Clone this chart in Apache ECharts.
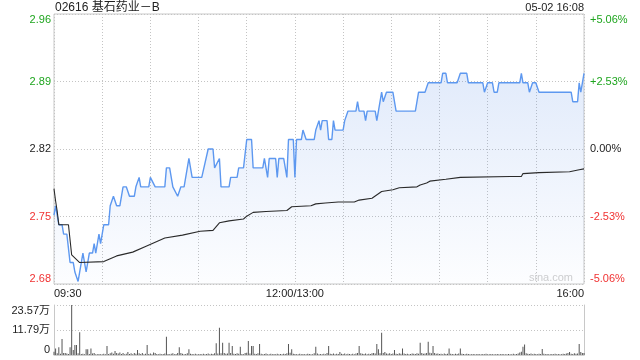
<!DOCTYPE html>
<html><head><meta charset="utf-8">
<script src="https://cdn.jsdelivr.net/npm/echarts@6/dist/echarts.min.js"></script>
<style>html,body{margin:0;padding:0;background:#fff}#c{width:640px;height:360px}</style>
</head><body><div id="c"></div>
<script>
const stockTitle = '02616 基石药业－B';
const stampText = '05-02 16:08';
const watermark = 'sina.com';
const prevClose = 2.82;
const timeTickLabels = {0: '09:30', 150: '12:00/13:00', 330: '16:00'};
const priceTickLabels = ['2.68', '2.75', '2.82', '2.89', '2.96'];
const pctTickLabels = ['-5.06%', '-2.53%', '0.00%', '+2.53%', '+5.06%'];
const volTickLabels = ['0', '11.79万', '23.57万'];

// [minute from 09:30 (lunch removed), price]
const priceTrack = [
  [0,2.75],[1,2.76],[3,2.74],[5,2.74],[6,2.73],[8,2.73],[10,2.70],[12,2.70],[13,2.69],[14,2.69],
  [15,2.68],[16,2.68],[18,2.71],[20,2.69],[22,2.71],[24,2.71],[25,2.72],[26,2.71],[28,2.73],[29,2.72],
  [30,2.73],[31,2.74],[34,2.74],[35,2.76],[37,2.77],[39,2.76],[41,2.76],[43,2.78],[45,2.78],[47,2.77],
  [50,2.77],[51,2.78],[52,2.78],[53,2.79],[54,2.78],[59,2.78],[60,2.79],[61,2.79],[63,2.78],[69,2.78],
  [70,2.80],[72,2.80],[74,2.78],[77,2.77],[79,2.78],[81,2.78],[84,2.81],[86,2.79],[92,2.79],[96,2.82],
  [99,2.82],[100,2.80],[101,2.80],[103,2.81],[104,2.78],[109,2.78],[110,2.79],[114,2.79],[115,2.80],[118,2.80],
  [120,2.83],[123,2.83],[124,2.80],[130,2.80],[131,2.81],[133,2.79],[134,2.81],[138,2.81],[139,2.79],[140,2.81],
  [143,2.81],[145,2.79],[146,2.83],[149,2.83],[150,2.79],[151,2.83],[154,2.83],[155,2.84],[157,2.83],[162,2.83],
  [163,2.84],[165,2.85],[166,2.84],[167,2.85],[170,2.85],[171,2.83],[173,2.83],[174,2.85],[175,2.84],[180,2.84],
  [181,2.85],[183,2.86],[188,2.86],[189,2.87],[190,2.86],[193,2.86],[194,2.85],[195,2.86],[200,2.86],[201,2.85],
  [202,2.86],[203,2.86],[204,2.88],[205,2.87],[206,2.87],[207,2.88],[211,2.88],[213,2.86],[225,2.86],[226,2.87],
  [227,2.88],[231,2.88],[233,2.89],[241,2.89],[242,2.90],[244,2.90],[245,2.89],[251,2.89],[253,2.90],[257,2.90],
  [258,2.89],[267,2.89],[268,2.88],[270,2.89],[273,2.89],[274,2.88],[276,2.88],[277,2.89],[290,2.89],[291,2.90],
  [292,2.89],[295,2.89],[296,2.88],[298,2.89],[300,2.89],[302,2.88],[322,2.88],[323,2.87],[326,2.87],[327,2.89],
  [328,2.88],[329,2.89],[330,2.90]
];

// [minute, average price]
const avgTrack = [
  [0,2.778],[1,2.765],[2,2.754],[3,2.740],[9,2.740],[11,2.708],[16,2.700],[31,2.701],[39,2.707],[49,2.711],
  [57,2.717],[69,2.726],[80,2.729],[91,2.733],[99,2.734],[103,2.742],[109,2.744],[118,2.746],[120,2.749],[124,2.753],
  [132,2.754],[145,2.755],[148,2.759],[160,2.760],[163,2.762],[169,2.763],[177,2.764],[187,2.764],[190,2.766],[198,2.768],
  [204,2.775],[211,2.777],[215,2.779],[226,2.780],[228,2.782],[232,2.784],[234,2.786],[244,2.788],[253,2.790],[284,2.791],
  [291,2.791],[292,2.794],[302,2.795],[321,2.796],[327,2.798],[330,2.799]
];

// volume per minute, in 万 shares (index = minute)
const volumes = [
  1.5,3.1,0.8,3.6,0.6,7.5,0.9,1.0,0.7,0.5,3.6,23.57,2.4,4.7,4.7,0.8,10.7,0.5,0.6,0.4,2.7,2.7,0.5,3.1,0.7,0.9,0.4,0.3,0.5,0.3,
  0.4,0.6,0.3,4.2,0.5,0.8,1.2,0.6,1.9,1.0,0.7,1.2,0.5,0.9,0.4,0.6,1.4,0.5,0.8,0.4,1.0,0.6,2.4,0.8,0.5,0.9,0.4,0.6,4.7,0.5,
  0.7,0.4,1.2,0.9,0.5,0.3,0.6,0.4,0.5,0.7,8.6,0.5,0.4,0.6,0.8,0.4,0.5,0.9,3.6,1.0,0.6,0.4,0.5,0.8,2.7,0.6,0.5,0.4,0.6,0.3,
  0.4,0.5,0.3,0.6,0.4,0.5,0.7,0.4,0.6,0.5,0.8,5.5,0.7,12.9,0.8,5.8,0.9,0.6,0.7,5.8,0.9,4.2,0.6,0.5,0.8,0.6,3.9,0.5,0.4,0.9,
  1.1,6.6,0.7,4.2,4.2,0.6,0.5,0.8,5.2,0.6,0.4,0.5,0.7,0.3,0.4,0.6,0.3,0.5,0.4,0.6,0.3,0.5,0.4,0.6,0.5,0.8,5.2,1.1,2.7,0.6,
  0.5,0.4,0.3,0.6,0.4,0.5,0.3,0.4,0.6,0.5,0.3,0.4,0.8,3.9,0.7,0.4,0.5,0.3,0.6,0.4,0.9,4.2,0.6,0.5,0.7,0.4,0.6,0.5,1.4,0.6,
  0.5,0.7,0.4,0.6,0.5,0.3,0.6,0.4,0.7,0.9,4.2,0.8,0.6,0.5,0.7,0.4,0.6,0.5,0.8,1.0,0.7,5.2,2.7,0.8,10.5,0.9,1.4,0.7,0.6,0.8,
  0.5,0.7,2.4,0.6,0.5,0.8,0.6,3.1,0.7,0.5,0.6,0.4,0.5,0.7,0.6,0.5,0.8,0.6,5.8,0.9,0.6,0.7,0.9,6.3,1.1,0.8,4.2,1.0,0.6,0.7,
  0.5,0.6,0.4,0.7,0.5,0.6,3.1,0.6,0.5,0.4,0.6,0.5,0.7,3.1,0.6,0.5,0.4,0.6,0.5,0.4,0.3,0.5,0.4,0.3,0.5,0.4,0.3,0.5,0.4,0.6,
  0.3,0.4,0.5,0.3,0.4,0.3,0.5,0.4,0.3,0.5,0.4,0.3,0.4,0.5,0.3,0.4,0.6,0.4,0.5,0.7,1.2,1.5,3.9,5.0,0.8,0.6,0.5,0.7,0.4,0.6,
  0.5,0.4,0.6,0.5,2.8,0.6,0.4,0.5,0.3,0.4,0.5,0.3,0.6,0.4,0.5,0.3,0.4,0.6,0.5,0.7,0.9,1.4,0.6,0.5,0.8,0.6,0.7,5.2,1.4,0.9,
  1.0
];

const FONT = "'Liberation Sans', 'Noto Sans CJK SC', sans-serif";
const GREEN = '#1ea51e', RED = '#f03232', TXT = '#222';
const toPct = p => (p / prevClose - 1) * 100;
const pctIdx = v => Math.round(v / 2.53) + 2;

const chart = echarts.init(document.getElementById('c'), null, {renderer: 'canvas'});
const dotted = {type: [1, 2], color: '#c4c4c4', width: 1};
chart.setOption({
  animation: false,
  backgroundColor: '#fff',
  textStyle: {fontFamily: FONT},
  grid: [
    {left: 54, right: 56, top: 14, height: 270, show: true, borderColor: '#c8c8c8', borderWidth: 1, backgroundColor: 'transparent'},
    {left: 54, right: 56, top: 305, height: 50}
  ],
  xAxis: [
    {type: 'value', gridIndex: 0, min: 0, max: 330, interval: 30,
     axisLine: {show: false}, axisTick: {show: false},
     splitLine: {show: true, lineStyle: dotted},
     axisLabel: {show: true, interval: 0, hideOverlap: false, margin: 4, fontSize: 11, color: TXT, fontFamily: FONT,
       alignMinLabel: 'left', alignMaxLabel: 'right',
       formatter: v => timeTickLabels[Math.round(v)] || ''}},
    {type: 'value', gridIndex: 1, min: 0, max: 330, interval: 30,
     axisLine: {show: true, lineStyle: {color: '#d0d0d0'}}, axisTick: {show: false},
     splitLine: {show: false}, axisLabel: {show: false}}
  ],
  yAxis: [
    {type: 'value', gridIndex: 0, min: -5.06, max: 5.06, interval: 2.53, position: 'left',
     axisLine: {show: false}, axisTick: {show: false},
     splitLine: {show: true, lineStyle: dotted},
     axisLabel: {margin: 3, fontSize: 11, fontFamily: FONT,
       verticalAlignMinLabel: 'bottom', verticalAlignMaxLabel: 'top',
       formatter: v => priceTickLabels[pctIdx(v)],
       color: v => { const i = pctIdx(v); return i > 2 ? GREEN : (i < 2 ? RED : TXT); }}},
    {type: 'value', gridIndex: 0, min: -5.06, max: 5.06, interval: 2.53, position: 'right',
     axisLine: {show: false}, axisTick: {show: false}, splitLine: {show: false},
     axisLabel: {margin: 6, fontSize: 11, fontFamily: FONT,
       verticalAlignMinLabel: 'bottom', verticalAlignMaxLabel: 'top',
       formatter: v => pctTickLabels[pctIdx(v)],
       color: v => { const i = pctIdx(v); return i > 2 ? GREEN : (i < 2 ? RED : TXT); }}},
    {type: 'value', gridIndex: 1, min: 0, max: 23.57, interval: 11.785, position: 'left',
     axisLine: {show: true, lineStyle: {color: '#c8c8c8'}}, axisTick: {show: false},
     splitLine: {show: true, lineStyle: dotted},
     axisLabel: {margin: 4, fontSize: 11, color: TXT, fontFamily: FONT,
       verticalAlignMinLabel: 'bottom', verticalAlignMaxLabel: 'top',
       formatter: v => volTickLabels[Math.round(v / 11.785)]}},
    {type: 'value', gridIndex: 1, min: 0, max: 23.57, interval: 11.785, position: 'right',
     axisLine: {show: true, lineStyle: {color: '#c8c8c8'}}, axisTick: {show: false},
     splitLine: {show: false}, axisLabel: {show: false}}
  ],
  series: [
    {type: 'line', xAxisIndex: 0, yAxisIndex: 0, showSymbol: false, z: 3,
     data: priceTrack.map(([m, p]) => [m, toPct(p)]),
     lineStyle: {color: '#5d98f0', width: 1.4},
     areaStyle: {origin: 'start', color: new echarts.graphic.LinearGradient(0, 0, 0, 1, [
       {offset: 0, color: 'rgba(80,135,230,0.24)'}, {offset: 1, color: 'rgba(80,135,230,0.02)'}])}},
    {type: 'line', xAxisIndex: 0, yAxisIndex: 0, showSymbol: false, z: 4,
     data: avgTrack.map(([m, p]) => [m, toPct(p)]),
     lineStyle: {color: '#2a2a2a', width: 1.1}},
    {type: 'bar', xAxisIndex: 1, yAxisIndex: 2, barWidth: 1,
     data: volumes.map((v, i) => [i, v]),
     itemStyle: {color: '#555'}}
  ],
  graphic: [
    {type: 'text', left: 55, top: 2, style: {text: stockTitle, font: '12px ' + FONT, fill: TXT}},
    {type: 'text', right: 56, top: 2, style: {text: stampText, font: '11px ' + FONT, fill: TXT}},
    {type: 'text', right: 67, top: 272, z: 1, style: {text: watermark, font: '11px ' + FONT, fill: '#cfcfcf'}}
  ]
});
</script>
</body></html>
